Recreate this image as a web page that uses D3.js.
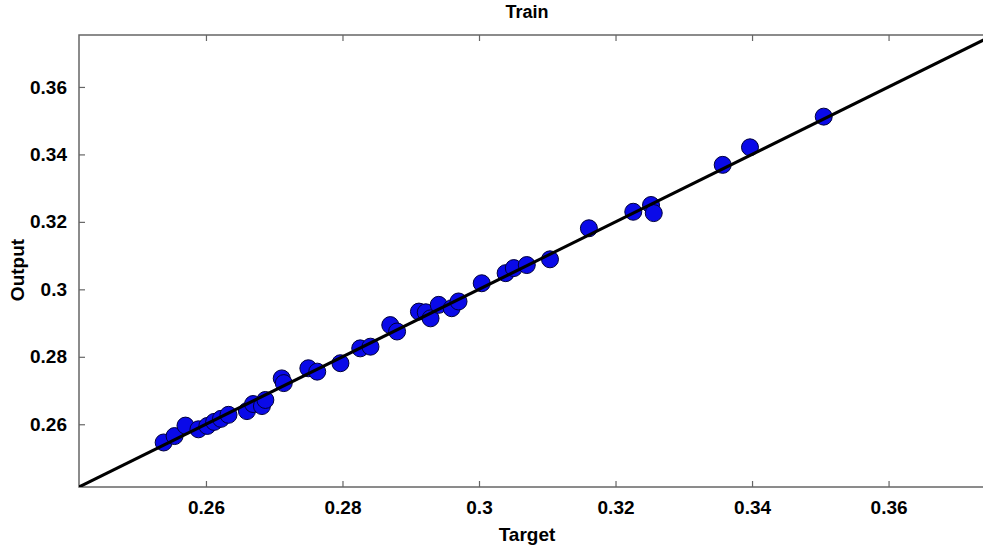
<!DOCTYPE html>
<html>
<head>
<meta charset="utf-8">
<script src="https://cdn.jsdelivr.net/npm/d3@7"></script>
<style>
  body { margin: 0; background: #fff; }
  svg { display: block; font-family: "Liberation Sans", Arial, sans-serif; }
</style>
</head>
<body>
<div id="chart"></div>
<script>
// values
var targets = [0.2538, 0.2554, 0.2570, 0.2589, 0.2602, 0.2612, 0.2622, 0.2633, 0.2660, 0.2669,
               0.2682, 0.2687, 0.2711, 0.2714, 0.2750, 0.2763, 0.2797, 0.2826, 0.2841, 0.2870,
               0.2880, 0.2912, 0.2922, 0.2929, 0.2941, 0.2960, 0.2970, 0.3004, 0.3039, 0.3051,
               0.3070, 0.3104, 0.3161, 0.3226, 0.3252, 0.3256, 0.3357, 0.3397, 0.3505];
var outputs = [0.2546, 0.2565, 0.2596, 0.2585, 0.2595, 0.2607, 0.2616, 0.2628, 0.2639, 0.2660,
               0.2654, 0.2672, 0.2736, 0.2722, 0.2766, 0.2756, 0.2781, 0.2825, 0.2830, 0.2894,
               0.2875, 0.2934, 0.2932, 0.2914, 0.2954, 0.2944, 0.2964, 0.3018, 0.3048, 0.3063,
               0.3072, 0.3089, 0.3181, 0.3230, 0.3250, 0.3226, 0.3369, 0.3421, 0.3512];
var tickValues = [0.26, 0.28, 0.30, 0.32, 0.34, 0.36];
var tickLabels = ["0.26", "0.28", "0.3", "0.32", "0.34", "0.36"];
var axisLimits = [0.2414, 0.3754];

var width = 983,
    height = 546;

var plotLeft = 79, plotTop = 35, plotBottom = 487;
var plotRight = plotLeft + (axisLimits[1] - axisLimits[0]) * 6826; // runs past the window edge

var svg = d3.select("#chart").append("svg")
    .attr("width", width)
    .attr("height", height)
    .style("overflow", "hidden");

var x = d3.scaleLinear().domain(axisLimits).range([plotLeft, plotRight]);
var y = d3.scaleLinear().domain(axisLimits).range([plotBottom, plotTop]);

var boxColor = "#666";
var tickLen = 6;

// axes box
svg.append("rect")
    .attr("x", plotLeft)
    .attr("y", plotTop)
    .attr("width", plotRight - plotLeft)
    .attr("height", plotBottom - plotTop)
    .attr("fill", "none")
    .attr("stroke", boxColor)
    .attr("stroke-width", 1.5);

// ticks on all four sides, pointing inward
function fmt(d) { return tickLabels[tickValues.indexOf(d)]; }

svg.append("g")
    .attr("transform", "translate(0," + plotBottom + ")")
    .call(d3.axisBottom(x).tickValues(tickValues).tickFormat(fmt).tickSizeInner(-tickLen).tickSizeOuter(0).tickPadding(14))
    .call(function(g) { g.select(".domain").remove(); });

svg.append("g")
    .attr("transform", "translate(0," + plotTop + ")")
    .call(d3.axisTop(x).tickValues(tickValues).tickFormat("").tickSizeInner(-tickLen).tickSizeOuter(0))
    .call(function(g) { g.select(".domain").remove(); });

svg.append("g")
    .attr("transform", "translate(" + plotLeft + ",0)")
    .call(d3.axisLeft(y).tickValues(tickValues).tickFormat(fmt).tickSizeInner(-tickLen).tickSizeOuter(0).tickPadding(12))
    .call(function(g) { g.select(".domain").remove(); });

svg.append("g")
    .attr("transform", "translate(" + plotRight + ",0)")
    .call(d3.axisRight(y).tickValues(tickValues).tickFormat("").tickSizeInner(-tickLen).tickSizeOuter(0))
    .call(function(g) { g.select(".domain").remove(); });

svg.selectAll(".tick line").attr("stroke", boxColor).attr("stroke-width", 1.2);
svg.selectAll(".tick text")
    .attr("fill", "#000")
    .style("font-size", "19px")
    .style("font-weight", "bold")
    .style("font-family", "'Liberation Sans', Arial, sans-serif");

// clip for the data marks
svg.append("clipPath").attr("id", "plot-clip")
    .append("rect")
    .attr("x", plotLeft).attr("y", plotTop)
    .attr("width", plotRight - plotLeft).attr("height", plotBottom - plotTop);

var plot = svg.append("g").attr("clip-path", "url(#plot-clip)");

// data points
plot.selectAll(".pt")
    .data(d3.zip(targets, outputs))
    .enter().append("circle")
    .attr("class", "pt")
    .attr("cx", function(d) { return x(d[0]); })
    .attr("cy", function(d) { return y(d[1]); })
    .attr("r", 8.5)
    .attr("fill", "#0a0ae8")
    .attr("stroke", "#00003a")
    .attr("stroke-width", 1);

// fit line Y = T
plot.append("line")
    .attr("x1", x(axisLimits[0]))
    .attr("y1", y(axisLimits[0]))
    .attr("x2", x(axisLimits[1]))
    .attr("y2", y(axisLimits[1]))
    .attr("stroke", "#000")
    .attr("stroke-width", 3);

// title and axis labels
svg.append("text")
    .attr("x", 527)
    .attr("y", 18)
    .attr("text-anchor", "middle")
    .style("font-size", "18px")
    .style("font-weight", "bold")
    .text("Train");

svg.append("text")
    .attr("x", 527)
    .attr("y", 541)
    .attr("text-anchor", "middle")
    .style("font-size", "19px")
    .style("font-weight", "bold")
    .text("Target");

svg.append("text")
    .attr("transform", "translate(24,270) rotate(-90)")
    .attr("text-anchor", "middle")
    .style("font-size", "19px")
    .style("font-weight", "bold")
    .text("Output");
</script>
</body>
</html>
